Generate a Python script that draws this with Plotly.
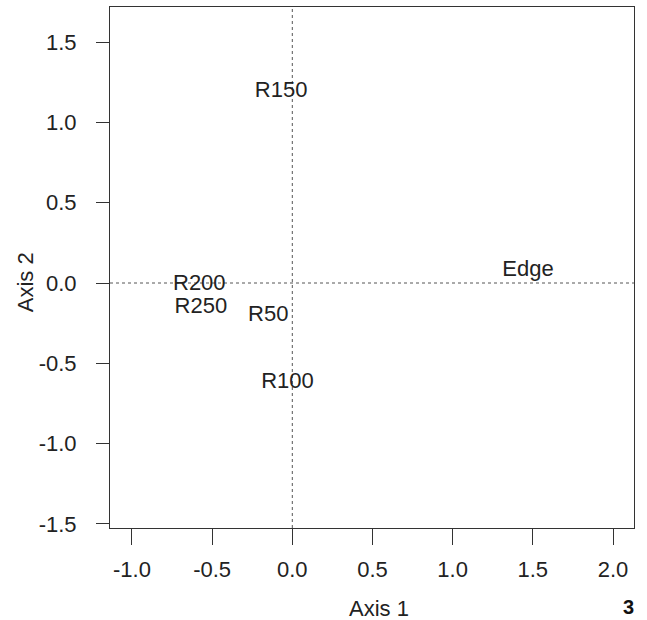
import plotly.graph_objects as go

# Ordination scores (label positions)
labels = ["R150", "Edge", "R200", "R250", "R50", "R100"]
axis1 = [-0.07, 1.47, -0.58, -0.57, -0.15, -0.03]
axis2 = [1.19, 0.075, -0.01, -0.155, -0.20, -0.62]

x_ticks = [-1.0, -0.5, 0.0, 0.5, 1.0, 1.5, 2.0]
y_ticks = [-1.5, -1.0, -0.5, 0.0, 0.5, 1.0, 1.5]
x_range = [-1.137, 2.131]
y_range = [-1.525, 1.718]

FONT = "Liberation Sans, Arial, Helvetica, sans-serif"
TXT = "#222222"
FS = 22

fig = go.Figure()
fig.add_trace(go.Scatter(
    x=axis1, y=axis2, mode="text", text=labels,
    textposition="middle center",
    textfont=dict(family=FONT, size=FS, color=TXT),
    hoverinfo="skip", showlegend=False,
))

# dotted reference lines at 0
fig.add_shape(type="line", xref="x", yref="paper", x0=0, x1=0, y0=0, y1=1,
              line=dict(color="#555555", width=1, dash="dot"), layer="below")
fig.add_shape(type="line", xref="paper", yref="y", x0=0, x1=1, y0=0, y1=0,
              line=dict(color="#555555", width=1, dash="dot"), layer="below")

fig.update_xaxes(
    range=x_range, tickvals=x_ticks, ticktext=[f"{v:.1f}" for v in x_ticks],
    showgrid=False, zeroline=False, showline=True, mirror=True,
    linecolor="#333333", linewidth=1, ticks="outside", ticklen=16,
    tickcolor="#333333", tickwidth=1, ticklabelstandoff=6,
    tickfont=dict(family=FONT, size=FS, color=TXT),
)
fig.update_yaxes(
    range=y_range, tickvals=y_ticks, ticktext=[f"{v:.1f}" for v in y_ticks],
    showgrid=False, zeroline=False, showline=True, mirror=True,
    linecolor="#333333", linewidth=1, ticks="outside", ticklen=13,
    tickcolor="#333333", tickwidth=1, ticklabelstandoff=15,
    tickfont=dict(family=FONT, size=FS, color=TXT),
)

fig.add_annotation(text="Axis 1", xref="paper", yref="paper", x=0.513, y=-0.1536,
                   xanchor="center", yanchor="middle", showarrow=False,
                   font=dict(family=FONT, size=FS, color=TXT))
fig.add_annotation(text="Axis 2", xref="paper", yref="paper", x=-0.162, y=0.472,
                   xanchor="center", yanchor="middle", showarrow=False, textangle=-90,
                   font=dict(family=FONT, size=FS, color=TXT))
fig.add_annotation(text="<b>3</b>", xref="paper", yref="paper", x=0.99, y=-0.151,
                   xanchor="center", yanchor="middle", showarrow=False,
                   font=dict(family=FONT, size=20, color="#111111"))

fig.update_layout(
    width=647, height=620,
    margin=dict(l=110, r=13, t=7, b=92),
    paper_bgcolor="white", plot_bgcolor="white",
    showlegend=False,
)

fig.write_html("out.html", config={"displayModeBar": False},
               post_script="document.body.style.margin='0px';")
